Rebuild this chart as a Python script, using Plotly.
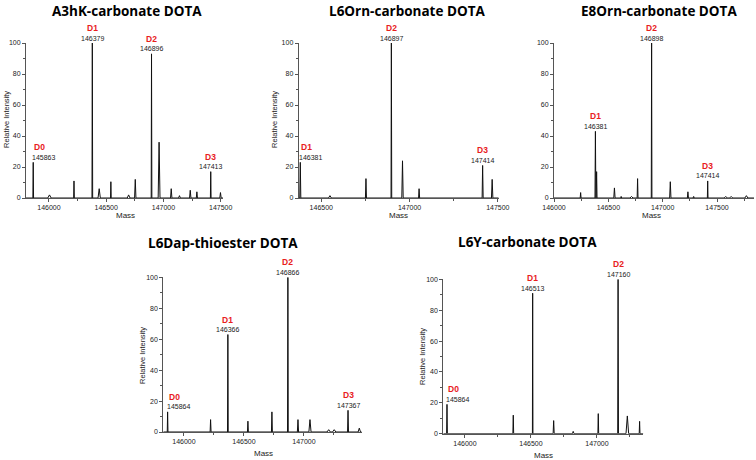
import plotly.graph_objects as go

W, H = 756, 460

# ---------------- data (masses in Da, relative intensity %) ----------------
titles = ["A3hK-carbonate DOTA", "L6Orn-carbonate DOTA", "E8Orn-carbonate DOTA",
          "L6Dap-thioester DOTA", "L6Y-carbonate DOTA"]

a3hk_mass = [145863, 146005, 146219, 146379, 146439, 146541, 146696, 146754, 146896,
             146962, 147068, 147140, 147234, 147292, 147413, 147498]
a3hk_int = [23, 2, 11, 100, 6, 10.5, 2, 12, 93, 36, 6, 1.5, 5, 4, 17, 3.5]
a3hk_halfwidth = [3, 15, 3, 3, 10, 3, 12, 6, 3, 8, 6, 8, 6, 5, 3, 6]

l6orn_mass = [146381, 146549, 146753, 146897, 146960, 147054, 147414, 147468]
l6orn_int = [23, 1.5, 12.5, 100, 24, 6, 21, 12]
l6orn_halfwidth = [3, 8, 3, 2, 4, 3, 3, 4]

e8orn_mass = [146245, 146381, 146392, 146556, 146618, 146713, 146769, 146898, 147070,
              147232, 147285, 147414, 147580, 147630, 147770]
e8orn_int = [3.5, 43, 17, 6.5, 1, 1, 12.5, 100, 10.5, 4, 1, 11, 1, 1, 1.5]
e8orn_halfwidth = [4, 4, 4, 6, 4, 14, 4, 3, 6, 5, 5, 3, 14, 14, 14]

l6dap_mass = [145864, 146222, 146366, 146533, 146733, 146866, 146950, 147050,
              147206, 147252, 147367, 147461]
l6dap_int = [13, 8, 63, 7, 13, 100, 8, 8, 1.5, 1.5, 14, 2.5]
l6dap_halfwidth = [3, 4, 3, 4, 4, 3, 5, 9, 14, 14, 4, 10]

l6y_mass = [145864, 146366, 146513, 146672, 146820, 147010, 147160, 147230, 147323]
l6y_int = [19, 12, 91, 8.5, 1.5, 13, 100, 11.5, 8]
l6y_halfwidth = [3, 3, 2, 4, 6, 3, 3, 10, 3]

# labelled peaks: (mass, intensity, label)
a3hk_labels = [(145863, 23, "D0"), (146379, 100, "D1"), (146896, 93, "D2"), (147413, 17, "D3")]
l6orn_labels = [(146381, 23, "D1"), (146897, 100, "D2"), (147414, 21, "D3")]
e8orn_labels = [(146381, 43, "D1"), (146898, 100, "D2"), (147414, 11, "D3")]
l6dap_labels = [(145864, 13, "D0"), (146366, 63, "D1"), (146866, 100, "D2"), (147367, 14, "D3")]
l6y_labels = [(145864, 19, "D0"), (146513, 91, "D1"), (147160, 100, "D2")]

x_ranges = [[145800, 147520], [146372, 147505], [146000, 147840],
            [145828, 147481], [145836, 147351]]
y_ticks = [0, 20, 40, 60, 80, 100]
x_ticks = [146000, 146500, 147000, 147500]

# ---------------- layout geometry (pixels) ----------------
# (left, right, y_top(100), y_bottom(0))
boxes = [(26, 223, 43, 198), (298.7, 498.7, 43, 198), (554, 754, 43, 198),
         (163.3, 361.7, 277.3, 432), (443.3, 643.3, 279.3, 433.7)]
title_pos = [(127, 11), (407, 11), (659, 11), (223, 243), (527, 242)]
ylab_pos = [(6, 120), (274, 120), None, (142, 356), (422, 357)]
mass_pos = [(125, 216), (398, 216), (651, 216), (263, 453), (543, 455)]

spectra = [(a3hk_mass, a3hk_int, a3hk_halfwidth, a3hk_labels),
           (l6orn_mass, l6orn_int, l6orn_halfwidth, l6orn_labels),
           (e8orn_mass, e8orn_int, e8orn_halfwidth, e8orn_labels),
           (l6dap_mass, l6dap_int, l6dap_halfwidth, l6dap_labels),
           (l6y_mass, l6y_int, l6y_halfwidth, l6y_labels)]

FONT = "Liberation Sans, Arial, sans-serif"
RED = "#e8201c"
AX = "#555555"

fig = go.Figure()
annotations = []


def px_x(p):
    return p / W


def px_y(p):
    return 1 - p / H


for i, ((mass, inten, hw, labels), rng, box) in enumerate(zip(spectra, x_ranges, boxes)):
    n = i + 1
    xs, ys = [rng[0]], [0]
    for m, h, w in sorted(zip(mass, inten, hw)):
        xs += [m - w, m, m + w]
        ys += [0, h, 0]
    xs.append(rng[1])
    ys.append(0)
    xa = "x" if n == 1 else f"x{n}"
    ya = "y" if n == 1 else f"y{n}"
    fig.add_trace(go.Scatter(x=xs, y=ys, mode="lines", xaxis=xa, yaxis=ya,
                             line=dict(color="#111111", width=1), showlegend=False,
                             hoverinfo="skip", cliponaxis=False))
    l, r, t, b = box
    common = dict(showgrid=False, zeroline=False, showline=True, linecolor=AX, linewidth=1,
                  ticks="outside", ticklen=3, tickcolor=AX, tickwidth=1, automargin=False,
                  tickfont=dict(family=FONT, size=7, color="#222"))
    fig.update_layout(**{
        ("xaxis" if n == 1 else f"xaxis{n}"): dict(
            domain=[px_x(l), px_x(r)], range=rng, anchor=ya, tickvals=x_ticks,
            ticktext=[str(v) for v in x_ticks],
            minor=dict(tickvals=[v + 250 for v in [145500] + x_ticks], ticklen=2, tickcolor=AX),
            **common),
        ("yaxis" if n == 1 else f"yaxis{n}"): dict(
            domain=[px_y(b), px_y(t)], range=[0, 100], anchor=xa, tickvals=y_ticks,
            minor=dict(dtick=10, ticklen=2, tickcolor=AX),
            **common),
    })
    span = rng[1] - rng[0]
    for m, h, lab in labels:
        near_left = (m - rng[0]) / span < 0.06
        kw = dict(xanchor="left") if near_left else dict(xanchor="center")
        annotations.append(dict(x=m, y=h, xref=xa, yref=ya, text=str(m), showarrow=False,
                                yanchor="middle", yshift=5, xshift=-3 if near_left else 0,
                                font=dict(family=FONT, size=7, color="#222"), **kw))
        annotations.append(dict(x=m, y=h, xref=xa, yref=ya, text=f"<b>{lab}</b>",
                                showarrow=False, yanchor="middle", yshift=15,
                                xshift=-1 if near_left else 0,
                                font=dict(family=FONT, size=8.5, color=RED), **kw))

for i in range(5):
    tx, ty = title_pos[i]
    annotations.append(dict(x=px_x(tx), y=px_y(ty), xref="paper", yref="paper",
                            text=f"<b>{titles[i]}</b>", showarrow=False,
                            xanchor="center", yanchor="middle",
                            font=dict(family="Open Sans, sans-serif", size=13.5, color="#000")))
    if ylab_pos[i] is not None:
        lx, ly = ylab_pos[i]
        annotations.append(dict(x=px_x(lx), y=px_y(ly), xref="paper", yref="paper",
                                text="Relative Intensity", showarrow=False, textangle=-90,
                                xanchor="center", yanchor="middle",
                                font=dict(family=FONT, size=7.5, color="#222")))
    mx, my = mass_pos[i]
    annotations.append(dict(x=px_x(mx), y=px_y(my), xref="paper", yref="paper",
                            text="Mass", showarrow=False, xanchor="center", yanchor="middle",
                            font=dict(family=FONT, size=8, color="#222")))

fig.update_layout(width=W, height=H, margin=dict(l=0, r=0, t=0, b=0, autoexpand=False),
                  paper_bgcolor="white", plot_bgcolor="white",
                  annotations=annotations, showlegend=False)

fig.write_html("out.html", config={"displayModeBar": False},
               post_script="document.body.style.margin='0';document.body.style.overflow='hidden';")
